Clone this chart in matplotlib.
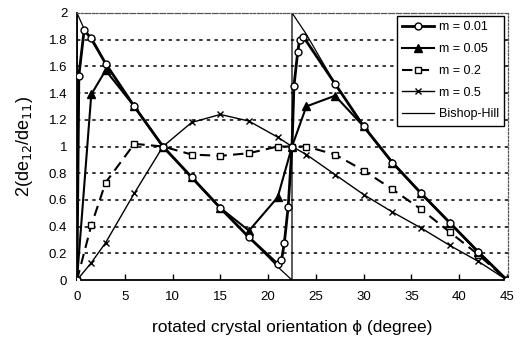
import matplotlib
matplotlib.use("Agg")
import matplotlib.pyplot as plt

plt.rcParams['font.family'] = ['Liberation Sans', 'DejaVu Sans']

# m = 0.01
phi_001 = [0, 0.2, 0.75, 1.5, 3, 6, 9, 12, 15, 18, 21, 21.4, 21.7, 22.1, 22.5, 22.7, 23.1, 23.3, 23.7, 27, 30, 33, 36, 39, 42, 45]
val_001 = [0, 1.53, 1.87, 1.81, 1.62, 1.30, 1.0, 0.77, 0.54, 0.32, 0.12, 0.15, 0.28, 0.55, 1.0, 1.45, 1.71, 1.80, 1.82, 1.47, 1.15, 0.88, 0.65, 0.43, 0.21, 0]
# m = 0.05
phi_005 = [0, 1.5, 3, 6, 9, 12, 15, 18, 21, 22.5, 24, 27, 30, 33, 36, 39, 42, 45]
val_005 = [0, 1.39, 1.57, 1.30, 1.0, 0.77, 0.54, 0.37, 0.62, 1.0, 1.30, 1.38, 1.15, 0.88, 0.65, 0.43, 0.21, 0]
# m = 0.2
phi_02 = [0, 1.5, 3, 6, 9, 12, 15, 18, 21, 22.5, 24, 27, 30, 33, 36, 39, 42, 45]
val_02 = [0, 0.41, 0.73, 1.02, 1.0, 0.94, 0.93, 0.95, 1.0, 1.0, 1.0, 0.94, 0.82, 0.68, 0.53, 0.36, 0.19, 0]
# m = 0.5
phi_05 = [0, 1.5, 3, 6, 9, 12, 15, 18, 21, 22.5, 24, 27, 30, 33, 36, 39, 42, 45]
val_05 = [0, 0.13, 0.28, 0.65, 1.0, 1.18, 1.24, 1.19, 1.07, 1.0, 0.94, 0.79, 0.64, 0.51, 0.39, 0.26, 0.14, 0]
# Bishop-Hill
phi_bh = [0, 0, 0.75, 3, 6, 9, 12, 15, 18, 21, 22.5, 22.5, 24, 27, 30, 33, 36, 39, 42, 45]
val_bh = [0, 2, 1.88, 1.62, 1.30, 1.0, 0.77, 0.54, 0.32, 0.10, 0, 2, 1.84, 1.47, 1.15, 0.88, 0.65, 0.43, 0.21, 0]

xticks = [0, 5, 10, 15, 20, 25, 30, 35, 40, 45]
yticks = [0, 0.2, 0.4, 0.6, 0.8, 1, 1.2, 1.4, 1.6, 1.8, 2]
ytick_labels = ['0', '0.2', '0.4', '0.6', '0.8', '1', '1.2', '1.4', '1.6', '1.8', '2']

fig = plt.figure(figsize=(5.27, 3.48), dpi=100)
ax = fig.add_axes([0.146, 0.195, 0.818, 0.768])

for y in yticks[1:]:
    ax.axhline(y, color='black', lw=1.1, ls=(0, (2.2, 2.8)), zorder=1)

ax.plot(phi_bh, val_bh, color='black', lw=0.9, label='Bishop-Hill', zorder=2)
ax.plot(phi_05, val_05, color='black', lw=1.0, marker='x', ms=5, mew=1.0, label='m = 0.5', zorder=3)
ax.plot(phi_02, val_02, color='black', lw=1.5, ls=(0, (5, 3)), marker='s', ms=5, mfc='white', mew=1.0, label='m = 0.2', zorder=3)
ax.plot(phi_005, val_005, color='black', lw=1.5, marker='^', ms=5.5, label='m = 0.05', zorder=4)
ax.plot(phi_001, val_001, color='black', lw=2.0, marker='o', ms=5, mfc='white', mew=1.0, label='m = 0.01', zorder=5)

ax.set_xlim(0, 45.1)
ax.set_ylim(0, 2)
ax.set_xticks(xticks)
ax.set_yticks(yticks)
ax.set_yticklabels(ytick_labels)
ax.tick_params(axis='x', direction='in', length=4, width=1, labelsize=9.5, pad=8)
ax.tick_params(axis='y', length=0, labelsize=9.5, pad=7)

for s in ['left', 'bottom']:
    ax.spines[s].set_linewidth(1.3)
for s in ['top', 'right']:
    ax.spines[s].set_linewidth(0.9)
    ax.spines[s].set_linestyle((0, (1.5, 1.5)))
    ax.spines[s].set_color('#555555')

ax.set_xlabel('rotated crystal orientation ϕ (degree)', fontsize=12.5, labelpad=12)
ax.set_ylabel('2(de$_{12}$/de$_{11}$)', fontsize=13, labelpad=10)

h, l = ax.get_legend_handles_labels()
order = [4, 3, 2, 1, 0]
leg = ax.legend([h[i] for i in order], [l[i] for i in order], loc='upper right',
                bbox_to_anchor=(1.0, 1.003), fontsize=9, frameon=True, fancybox=False,
                edgecolor='black', framealpha=1, labelspacing=0.78, handlelength=2.5,
                borderpad=0.45, handletextpad=0.4, borderaxespad=0.3)
leg.get_frame().set_linewidth(1.0)
leg.set_zorder(10)

fig.savefig('out.png', dpi=100)
